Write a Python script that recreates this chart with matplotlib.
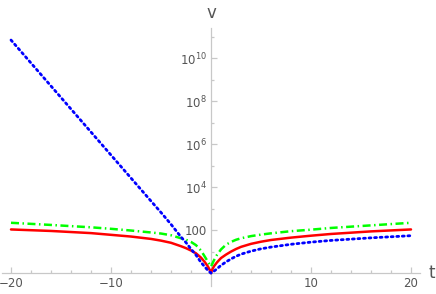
import numpy as np
import matplotlib
matplotlib.use("Agg")
import matplotlib.pyplot as plt
from matplotlib.ticker import FixedLocator, FixedFormatter

# ==== Data (v given as log10 values) ====
t = [-20, -16, -12, -10, -8, -6, -5, -4, -3, -2.5, -2, -1.5, -1, -0.6, -0.3, -0.1, 0,
     0.1, 0.3, 0.6, 1, 1.5, 2, 2.5, 3, 4, 5, 6, 8, 10, 12, 16, 20]

red_log10 = [2.03, 1.96, 1.86, 1.78, 1.70, 1.59, 1.51, 1.41, 1.25, 1.16, 1.05, 0.92, 0.72, 0.50, 0.30, 0.12, 0.0,
             0.14, 0.32, 0.50, 0.70, 0.86, 1.00, 1.12, 1.22, 1.36, 1.46, 1.54, 1.65, 1.74, 1.82, 1.94, 2.03]

green_log10 = [2.34, 2.24, 2.13, 2.06, 1.98, 1.89, 1.84, 1.76, 1.62, 1.55, 1.45, 1.30, 1.05, 0.75, 0.52, 0.38, 0.30,
               0.40, 0.60, 0.85, 1.10, 1.32, 1.45, 1.55, 1.62, 1.72, 1.79, 1.85, 1.95, 2.02, 2.10, 2.22, 2.34]

blue_log10 = [10.84, 8.70, 6.56, 5.49, 4.42, 3.35, 2.82, 2.27, 1.68, 1.42, 1.12, 0.84, 0.50, 0.28, 0.12, 0.04, 0.0,
              0.03, 0.09, 0.20, 0.36, 0.52, 0.66, 0.78, 0.88, 1.02, 1.13, 1.21, 1.34, 1.44, 1.52, 1.64, 1.74]

x_major = [-20, -10, 10, 20]
x_minor = [-18, -16, -14, -12, -8, -6, -4, -2, 2, 4, 6, 8, 12, 14, 16, 18]
y_major_exp = [2, 4, 6, 8, 10]
y_minor_exp = [1, 3, 5, 7, 9, 11]
y_labels = ["100", r"$10^{4}$", r"$10^{6}$", r"$10^{8}$", r"$10^{10}$"]

# ==== Figure ====
plt.rcParams['font.family'] = ['DejaVu Sans']
plt.rcParams['mathtext.default'] = 'regular'
axis_gray = "#c8c8c8"
text_gray = "#555555"

fig = plt.figure(figsize=(4.36, 2.94), dpi=100)
ax = fig.add_axes([2 / 436, 8 / 294, 418 / 436, 258 / 294])

ax.plot(t, 10 ** np.array(red_log10), color=(1, 0, 0), lw=1.8,
        solid_capstyle='round', solid_joinstyle='round', zorder=3)
ax.plot(t, 10 ** np.array(green_log10), color=(0, 1, 0), lw=1.8,
        linestyle=(0, (3.2, 1.4, 0.6, 1.4)), zorder=4)
ax.plot(t, 10 ** np.array(blue_log10), color=(0, 0, 1), lw=2.0,
        linestyle=(0, (0.7, 1.3)), dash_capstyle='round', zorder=5)

ax.set_yscale('log')
ax.set_xlim(-20.9, 20.9)
ax.set_ylim(10 ** -0.6, 10 ** 11.4)

# Mathematica style axes through the origin
for s in ['top', 'right']:
    ax.spines[s].set_visible(False)
ax.spines['left'].set_position(('data', 0))
ax.spines['bottom'].set_position(('data', 1))
for s in ['left', 'bottom']:
    ax.spines[s].set_color(axis_gray)
    ax.spines[s].set_linewidth(0.9)

ax.xaxis.set_major_locator(FixedLocator(x_major))
ax.xaxis.set_minor_locator(FixedLocator(x_minor))
ax.yaxis.set_major_locator(FixedLocator([10.0 ** e for e in y_major_exp]))
ax.yaxis.set_major_formatter(FixedFormatter(y_labels))
ax.yaxis.set_minor_locator(FixedLocator([10.0 ** e for e in y_minor_exp]))
ax.yaxis.set_minor_formatter(FixedFormatter([]))

ax.tick_params(which='both', direction='in', color=axis_gray, width=0.9,
               labelcolor=text_gray, labelsize=8.5)
ax.tick_params(which='major', length=4.5, pad=3)
ax.tick_params(which='minor', length=2.5)

fig.text(432 / 436, 1 - 273 / 294, "t", color=text_gray, fontsize=12, ha='center', va='center')
fig.text(211 / 436, 1 - 13 / 294, "v", color=text_gray, fontsize=12, ha='center', va='center')

fig.savefig("out.png", dpi=100)
